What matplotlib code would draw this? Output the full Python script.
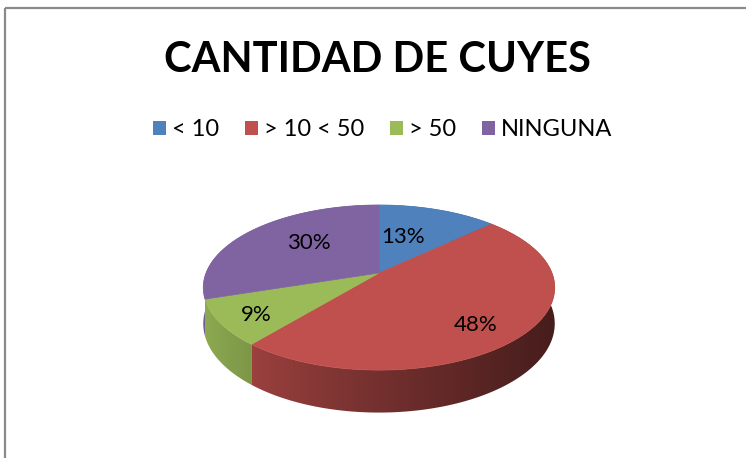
import numpy as np
import matplotlib
matplotlib.use('Agg')
import matplotlib.pyplot as plt
from matplotlib.patches import Polygon, Patch, Rectangle
from matplotlib.colors import to_rgb

title = 'CANTIDAD DE CUYES'
categories = ['< 10', '> 10 < 50', '> 50', 'NINGUNA']
values = [13, 48, 9, 30]
colors = ['#4F81BD', '#C0504D', '#9BBB59', '#8064A2']
label_r = [0.51, 0.77, 0.81, 0.59]
label_shift = [-6.4, 6.3, -2.2, 6.4]   # degrees

W, H = 746, 458
cx, cy = 379, 273      # pie centre on screen
rx, ry = 173, 80       # ellipse radii
k = 0.176              # perspective strength
depth = 35


def project(r, th, dz=0.0):
    # th is clockwise from 12 o'clock
    u = r * np.sin(th)
    v = r * np.cos(th)
    s = 1 + k * v
    return cx + rx * u / s, cy - ry * v / s + dz / s


def shade(x):
    t = np.clip((x - 203) / 350, 0, 1)
    return 0.92 - 0.55 * t ** 0.8


fig = plt.figure(figsize=(W / 100, H / 100), dpi=100)
ax = fig.add_axes([0, 0, 1, 1])
ax.set_xlim(0, W)
ax.set_ylim(H, 0)
ax.axis('off')

# chart frame
ax.add_patch(Rectangle((5, 8), W, H, fill=False, edgecolor='#8a8a8a', lw=1.6))

fracs = np.array(values) / sum(values)
starts = np.concatenate([[0], np.cumsum(fracs)[:-1]]) * 2 * np.pi
ends = np.cumsum(fracs) * 2 * np.pi

# side walls with a left-to-right gradient, back slices first
xg = np.arange(W) + 0.5
order = sorted(range(len(values)), key=lambda i: -np.cos((starts[i] + ends[i]) / 2))
for i in order:
    ts = np.linspace(starts[i], ends[i], 300)
    xt, yt = project(1, ts)
    xb, yb = project(1, ts, depth)
    pts = list(zip(xt, yt)) + list(zip(xb[::-1], yb[::-1]))
    poly = Polygon(pts, closed=True, facecolor='none', edgecolor='none')
    ax.add_patch(poly)
    grad = np.array(to_rgb(colors[i]))[None, None, :] * shade(xg)[None, :, None]
    im = ax.imshow(grad, extent=[0, W, H, 0], aspect='auto', interpolation='bilinear')
    im.set_clip_path(poly)

# top faces
for i in range(len(values)):
    ts = np.linspace(starts[i], ends[i], 200)
    xs, ys = project(1, ts)
    pts = [(cx, cy)] + list(zip(xs, ys))
    ax.add_patch(Polygon(pts, closed=True, facecolor=colors[i], edgecolor=colors[i],
                         lw=0.5, zorder=3))

# percentage labels
for i in range(len(values)):
    mid = (starts[i] + ends[i]) / 2 + np.radians(label_shift[i])
    lx, ly = project(label_r[i], mid)
    ax.text(lx, ly, f'{values[i]}%', ha='center', va='center', fontsize=16,
            family='Lato', color='black', zorder=4)

ax.set_xlim(0, W)
ax.set_ylim(H, 0)

ax.text(377, 60, title, ha='center', va='center', fontsize=30,
        fontweight='bold', family='Lato')

handles = [Patch(facecolor=c, edgecolor='none') for c in colors]
fig.legend(handles, categories, loc='center', bbox_to_anchor=(383 / W, 1 - 130 / H),
           ncol=4, frameon=False, prop={'family': 'Lato', 'size': 17},
           handlelength=0.55, handleheight=0.55, handletextpad=0.25,
           columnspacing=1.1)

fig.savefig('out.png', dpi=100, facecolor='white')
